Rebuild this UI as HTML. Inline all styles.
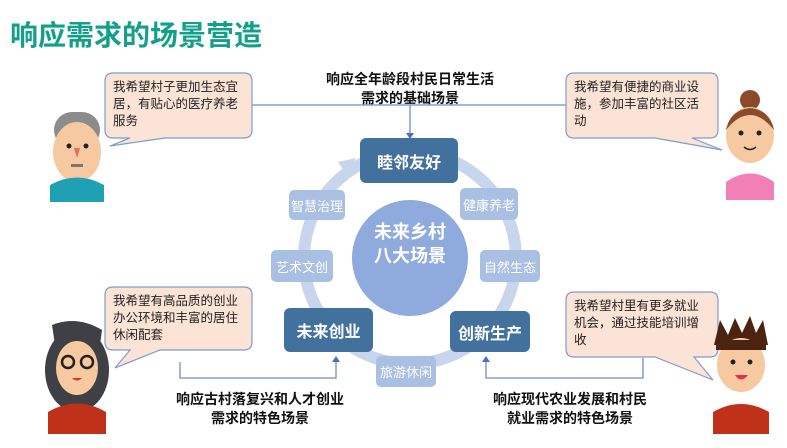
<!DOCTYPE html>
<html><head><meta charset="utf-8"><style>
body{margin:0;width:787px;height:448px;background:#fff;position:relative;overflow:hidden;font-family:"Liberation Sans","Noto Sans CJK SC",sans-serif}
.a{position:absolute}
.t{font-weight:bold;color:#111;font-size:14px;text-align:center;line-height:19px}
.dk{background:#41719c;color:#fff;font-weight:bold;font-size:16px;border-radius:6px;display:flex;align-items:center;justify-content:center}
.lt{background:#a9c0e2;color:#fff;font-size:13px;border-radius:5px;display:flex;align-items:center;justify-content:center}
.bt{font-size:12.5px;line-height:17px;color:#222;padding:6px 8px}
</style></head><body>
<div class="a" style="left:10px;top:14px;font-size:28px;font-weight:bold;color:#13a08b">响应需求的场景营造</div>
<svg class="a" style="left:0;top:0" width="787" height="448">
<circle cx="410" cy="258" r="106" fill="none" stroke="#c7d6ec" stroke-width="12"/>
<path d="M338 162 L356 158 L346 174 z" fill="#c7d6ec"/>
<circle cx="410" cy="258" r="58" fill="#8faadc"/>
<g stroke="#6f8fc9" stroke-width="1.3" fill="none">
<path d="M252 105 H567"/><path d="M410 105 V136"/>
<path d="M180 362 V378 H336 V360"/>
<path d="M643 358 V378 H486 V360"/>
</g>
<g fill="#4472c4"><path d="M406 133 L414 133 L410 139 z"/><path d="M332 362 L340 362 L336 356 z"/><path d="M482 362 L490 362 L486 356 z"/></g>
<g fill="#fbe3d5" stroke="#7f9ccf" stroke-width="1.2">
<path d="M113 73 H244 Q252 73 252 81 V130 Q252 138 244 138 H165 L110 146 L130 138 H113 Q105 138 105 130 V81 Q105 73 113 73 Z"/>
<path d="M574 73 H710 Q718 73 718 81 V130 Q718 138 710 138 H692 L722 150 L655 138 H574 Q566 138 566 130 V81 Q566 73 574 73 Z"/>
<path d="M113 287 H244 Q252 287 252 295 V342 Q252 350 244 350 H160 L115 368 L130 350 H113 Q105 350 105 342 V295 Q105 287 113 287 Z"/>
<path d="M574 292 H710 Q718 292 718 300 V349 Q718 357 710 357 H694 L713 380 L655 357 H574 Q566 357 566 349 V300 Q566 292 574 292 Z"/>
</g>
<rect x="54" y="112" width="46" height="36" rx="18" fill="#8c8c8c"/>
<ellipse cx="77" cy="152" rx="24" ry="30" fill="#f6c9a0"/>
<path d="M50 202 V185 Q77 170 104 185 V202 Z" fill="#1fa0b5"/>
<circle cx="69" cy="146" r="2.5" fill="#222"/><circle cx="86" cy="146" r="2.5" fill="#222"/>
<path d="M74 148 L80 148 L77 158 z" fill="#e07060"/><rect x="71" y="164" width="12" height="3" fill="#777"/>
<circle cx="750" cy="100" r="10" fill="#8b4a2b"/>
<ellipse cx="750" cy="135" rx="24" ry="28" fill="#f6c9a0"/>
<path d="M726 130 Q750 100 774 130 Q770 110 750 108 Q730 110 726 130" fill="#8b4a2b"/>
<path d="M726 200 V182 Q750 165 774 182 V200 Z" fill="#f27fb5"/>
<circle cx="741" cy="133" r="2.5" fill="#222"/><circle cx="759" cy="133" r="2.5" fill="#222"/>
<path d="M744 147 Q750 152 756 147" stroke="#222" fill="none" stroke-width="1.5"/>
<ellipse cx="77" cy="370" rx="32" ry="42" fill="#3f3f46"/>
<ellipse cx="77" cy="368" rx="21" ry="27" fill="#f6c9a0"/>
<path d="M52 325 Q77 315 102 330 L100 345 Q77 330 55 345 Z" fill="#3f3f46"/>
<circle cx="68" cy="362" r="6" fill="none" stroke="#222" stroke-width="2.5"/><circle cx="87" cy="362" r="6" fill="none" stroke="#222" stroke-width="2.5"/>
<path d="M72 378 Q77 383 82 378" fill="#e03030"/>
<path d="M48 434 V412 Q77 395 106 412 V434 Z" fill="#c0311a"/>
<path d="M714 345 L720 320 L728 335 L735 318 L742 333 L750 316 L756 333 L763 320 L768 345 Z" fill="#4a2410"/>
<ellipse cx="741" cy="365" rx="24" ry="27" fill="#f6c9a0"/>
<rect x="716" y="340" width="50" height="10" fill="#4a2410"/>
<circle cx="733" cy="362" r="2.5" fill="#222"/><circle cx="750" cy="362" r="2.5" fill="#222"/>
<path d="M735 375 Q741 384 748 375 Z" fill="#e03050"/>
<path d="M713 434 V412 Q741 396 769 412 V434 Z" fill="#c0311a"/>
</svg>
<div class="a bt" style="left:105px;top:73px;width:131px">我希望村子更加生态宜居，有贴心的医疗养老服务</div>
<div class="a bt" style="left:566px;top:73px;width:136px">我希望有便捷的商业设施，参加丰富的社区活动</div>
<div class="a bt" style="left:105px;top:287px;width:131px">我希望有高品质的创业办公环境和丰富的居住休闲配套</div>
<div class="a bt" style="left:566px;top:292px;width:136px">我希望村里有更多就业机会，通过技能培训增收</div>
<div class="a t" style="left:290px;top:70px;width:240px">响应全年龄段村民日常生活<br>需求的基础场景</div>
<div class="a t" style="left:150px;top:390px;width:220px">响应古村落复兴和人才创业<br>需求的特色场景</div>
<div class="a t" style="left:470px;top:390px;width:200px">响应现代农业发展和村民<br>就业需求的特色场景</div>
<div class="a dk" style="left:360px;top:138px;width:98px;height:45px">睦邻友好</div>
<div class="a dk" style="left:284px;top:308px;width:89px;height:44px">未来创业</div>
<div class="a dk" style="left:450px;top:311px;width:80px;height:41px">创新生产</div>
<div class="a lt" style="left:289px;top:190px;width:56px;height:30px">智慧治理</div>
<div class="a lt" style="left:460px;top:188px;width:58px;height:32px">健康养老</div>
<div class="a lt" style="left:271px;top:250px;width:62px;height:32px">艺术文创</div>
<div class="a lt" style="left:480px;top:250px;width:60px;height:32px">自然生态</div>
<div class="a lt" style="left:376px;top:356px;width:60px;height:31px">旅游休闲</div>
<div class="a" style="left:352px;top:220px;width:116px;text-align:center;color:#fff;font-weight:bold;font-size:18px;line-height:24px">未来乡村<br>八大场景</div>
</body></html>
